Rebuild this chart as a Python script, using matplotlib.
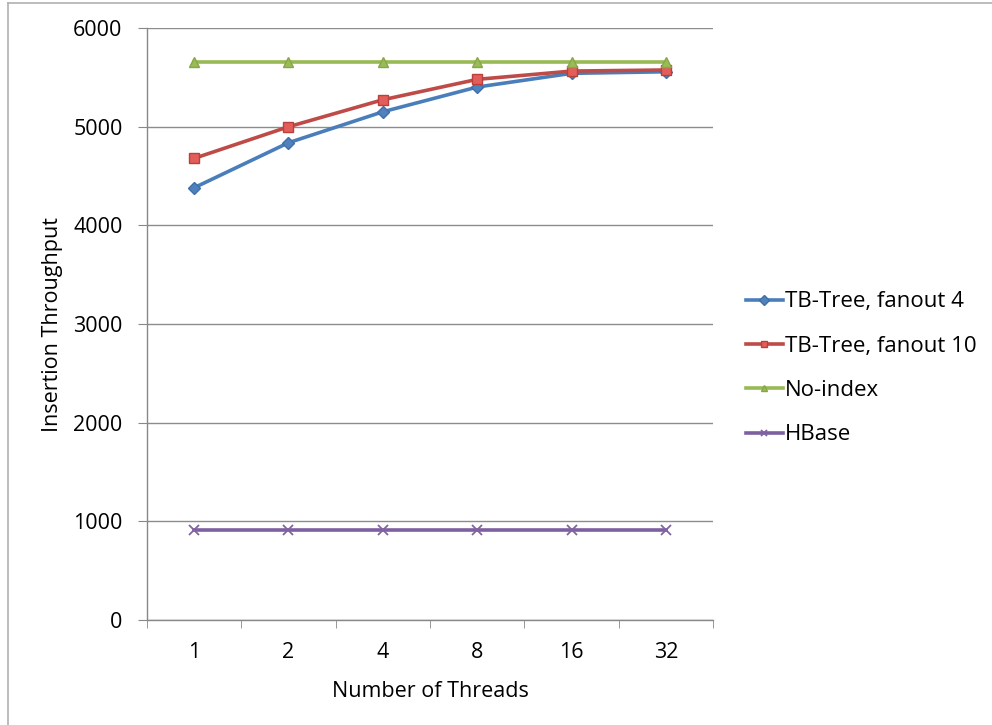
import matplotlib
matplotlib.use("Agg")
import matplotlib.pyplot as plt
from matplotlib.lines import Line2D
import numpy as np

plt.rcParams['font.family'] = ['Open Sans', 'DejaVu Sans']

threads = ["1", "2", "4", "8", "16", "32"]
tb4 = [4382, 4839, 5153, 5404, 5543, 5559]
tb10 = [4680, 5001, 5275, 5482, 5566, 5577]
noindex = [5661, 5661, 5661, 5661, 5661, 5661]
hbase = [912, 912, 912, 912, 912, 912]

FS = 15.5

fig = plt.figure(figsize=(9.92, 7.25), dpi=100)
ax = fig.add_axes([0.148, 0.145, 0.571, 0.816])

x = np.arange(len(threads))
ax.plot(x, tb4, color='#4A7EBB', lw=2.6, marker='D', ms=6, mfc='#4F81BD', mec='#3F6FAA', label='TB-Tree, fanout 4', zorder=3)
ax.plot(x, tb10, color='#BE4B48', lw=2.6, marker='s', ms=7.5, mfc='#E35D5A', mec='#B9403D', label='TB-Tree, fanout 10', zorder=3)
ax.plot(x, noindex, color='#98B954', lw=2.6, marker='^', ms=7.5, mfc='#9BBB59', mec='#86A844', label='No-index', zorder=3)
ax.plot(x, hbase, color='#7D60A0', lw=2.6, marker='x', ms=7, mew=1.3, mec='#8064A2', label='HBase', zorder=3)

ax.set_xlim(-0.5, len(threads) - 0.5)
ax.set_ylim(0, 6000)
ax.set_yticks(np.arange(0, 6001, 1000))
ax.set_xticks(x)
ax.set_xticklabels(threads)
ax.set_xticks(np.arange(-0.5, len(threads), 1), minor=True)
ax.tick_params(axis='x', which='major', length=0, pad=16, labelsize=FS)
ax.tick_params(axis='x', which='minor', length=6, color='#888888', direction='out')
ax.tick_params(axis='y', length=6.5, color='#888888', labelsize=FS, pad=11)
ax.yaxis.grid(True, color='#8C8C8C', lw=1.0)
ax.set_axisbelow(True)
for s in ['top', 'right']:
    ax.spines[s].set_visible(False)
for s in ['left', 'bottom']:
    ax.spines[s].set_color('#888888')
    ax.spines[s].set_linewidth(1.0)

ax.set_xlabel('Number of Threads', fontsize=FS, labelpad=13)
ax.set_ylabel('Insertion Throughput', fontsize=FS, labelpad=7)

leg = fig.legend(loc='center left', bbox_to_anchor=(746 / 992, 1 - 368.5 / 725), frameon=False,
                 fontsize=FS + 0.5, labelspacing=1.05, handlelength=1.65, handletextpad=0.12,
                 borderpad=0, borderaxespad=0)
for h in leg.legend_handles:
    h.set_markersize(5)
    h.set_linewidth(2.6)

# figure border (light gray, left and top)
fig.add_artist(Line2D([8 / 992, 8 / 992], [0, 1 - 3 / 725], transform=fig.transFigure, color='#B0B0B0', lw=1.2))
fig.add_artist(Line2D([8 / 992, 1], [1 - 3 / 725, 1 - 3 / 725], transform=fig.transFigure, color='#B0B0B0', lw=1.2))

fig.savefig('out.png', dpi=100)
